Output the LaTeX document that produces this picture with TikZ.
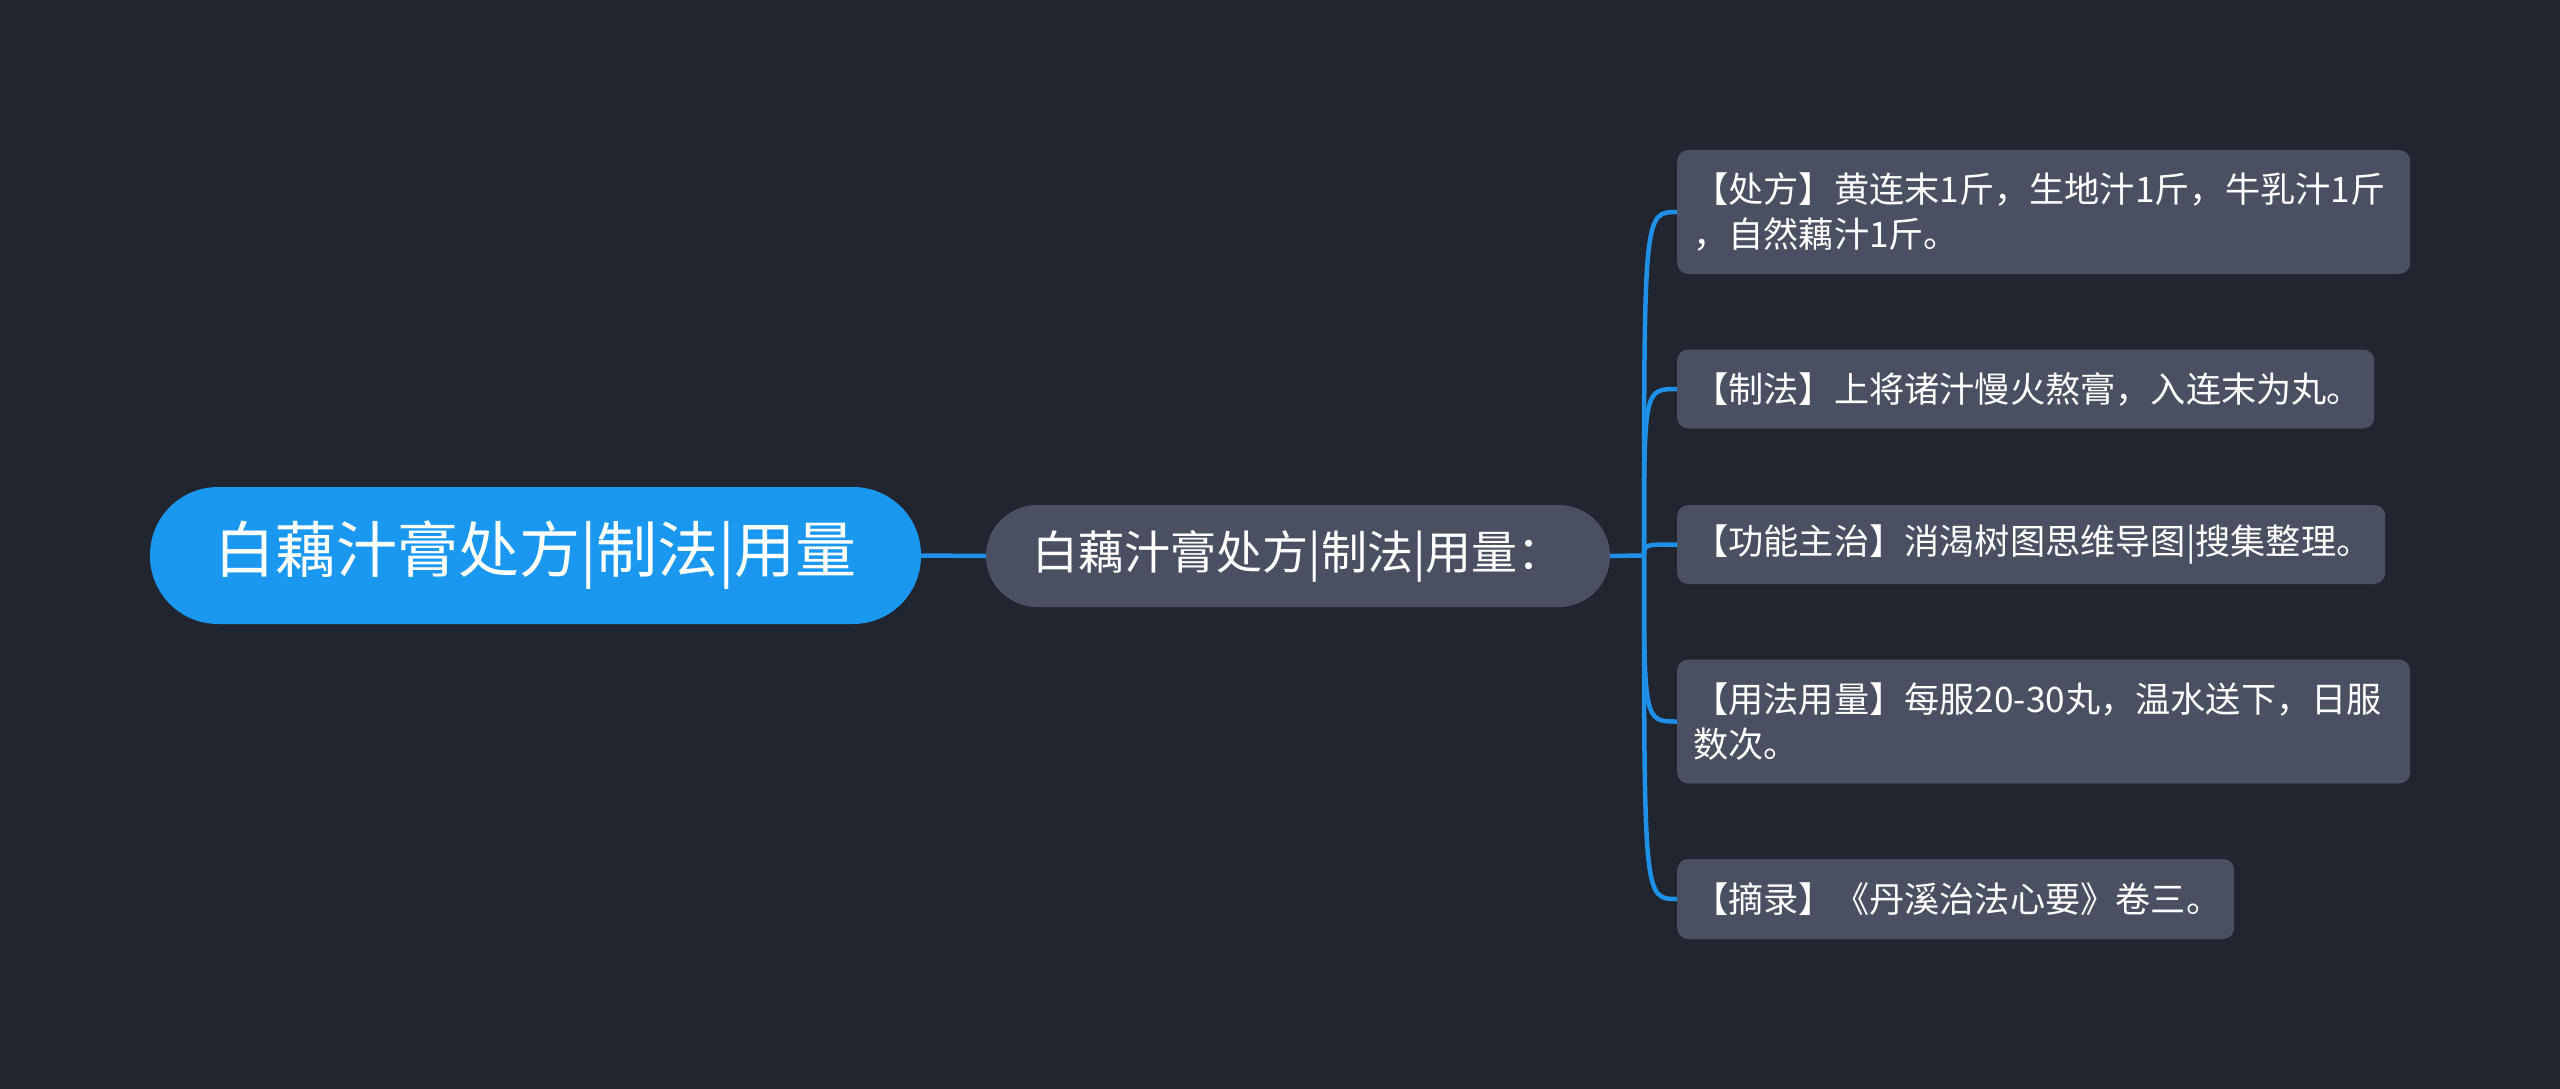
\documentclass[tikz,border=0pt]{standalone}
\usepackage{fontspec}
\setmainfont{Noto Sans CJK SC}
\definecolor{bgc}{HTML}{21252F}
\definecolor{rootc}{HTML}{1A98F0}
\definecolor{boxc}{HTML}{4A5061}
\definecolor{linkc}{HTML}{1E90E8}
\tikzset{
  rootbox/.style={fill=rootc, rounded corners=68, minimum width=771, minimum height=137, inner sep=0, text=white, font=\fontsize{61}{70}\selectfont},
  midbox/.style={fill=boxc, rounded corners=51, minimum width=624, minimum height=102, inner sep=0, text=white, font=\fontsize{46}{54}\selectfont},
  leafbox/.style={fill=boxc, rounded corners=11, inner sep=0, anchor=west},
  leaftext/.style={anchor=west, inner sep=0, text=white, align=left, font=\fontsize{35.2}{45}\selectfont},
  link/.style={draw=linkc, line width=4.5}
}
\begin{document}
\begin{tikzpicture}[x=1pt,y=-1pt]
\useasboundingbox (0,0) rectangle (2560,1089);
\fill[bgc] (0,0) rectangle (2560,1089);

\node[rootbox] (root) at (535.5,555.5) {白藕汁膏处方|制法|用量};
\node[midbox] (mid) at (1298,556) {白藕汁膏处方|制法|用量：};

\node[leafbox, minimum width=733, minimum height=124] (l1) at (1677,212) {};
\node[leafbox, minimum width=697, minimum height=79] (l2) at (1677,389) {};
\node[leafbox, minimum width=708, minimum height=79] (l3) at (1677,544.5) {};
\node[leafbox, minimum width=733, minimum height=124] (l4) at (1677,721.5) {};
\node[leafbox, minimum width=557, minimum height=80] (l5) at (1677,899) {};

\node[leaftext] (t1) at ([xshift=16]l1.west) {【处方】黄连末1斤，生地汁1斤，牛乳汁1斤\\，自然藕汁1斤。};
\node[leaftext] (t2) at ([xshift=16]l2.west) {【制法】上将诸汁慢火熬膏，入连末为丸。};
\node[leaftext] (t3) at ([xshift=16]l3.west) {【功能主治】消渴树图思维导图|搜集整理。};
\node[leaftext] (t4) at ([xshift=16]l4.west) {【用法用量】每服20-30丸，温水送下，日服\\数次。};
\node[leaftext] (t5) at ([xshift=16]l5.west) {【摘录】《丹溪治法心要》卷三。};

\coordinate (fork) at (1644,555.5);
\draw[link] (root.east) -- (mid.west);
\draw[link] (mid.east) -- (fork);
\foreach \n in {l1,l2,l3,l4,l5}{
  \draw[link] (fork) .. controls (fork |- \n.west) .. (\n.west);
}
\end{tikzpicture}
\end{document}
